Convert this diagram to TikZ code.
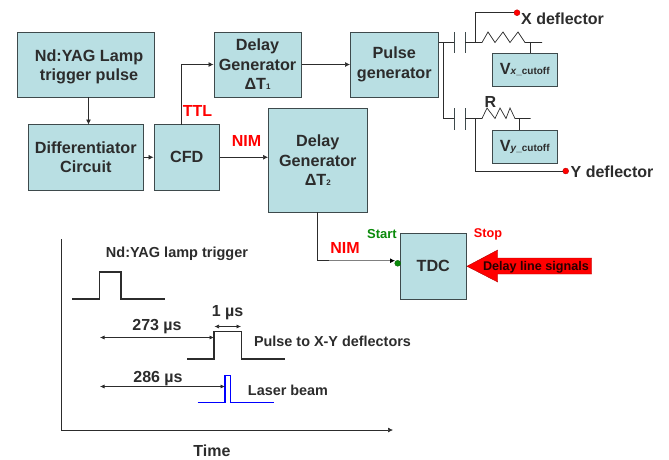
\documentclass[tikz,border=0pt]{standalone}
\usepackage{fontspec}
\setmainfont{Liberation Sans}
\usetikzlibrary{arrows.meta,calc}
\definecolor{boxfill}{HTML}{B9DFE3}
\definecolor{boxline}{HTML}{3E4A4C}
\definecolor{ink}{HTML}{2C2C2C}
\definecolor{sig}{HTML}{FF0000}
\definecolor{startgreen}{HTML}{0A8A0A}
\tikzset{
  lbl/.style={font=\bfseries\fontsize{#1}{#1}\selectfont,text=ink,inner sep=0pt},
  lbl/.default=13,
  block/.style={draw=boxline,line width=1pt,fill=boxfill,inner sep=0pt,align=center,font=\bfseries\fontsize{16.2}{19.5}\selectfont,text=ink},
  wire/.style={draw=ink,line width=0.7pt},
  flow/.style={wire,-{Latex[length=5pt,width=5pt]}},
  both/.style={draw=ink,line width=0.6pt,{Latex[length=4.5pt,width=4pt]}-{Latex[length=4.5pt,width=4pt]}},
  trace/.style={draw=ink,line width=1.1pt},
  plate/.style={draw=boxline,line width=1pt},
  redlbl/.style={font=\bfseries\fontsize{16}{16}\selectfont,text=sig,inner sep=0pt},
  dot/.style={circle,fill=#1,draw=#1!70!black,line width=0.3pt,minimum size=6pt,inner sep=0pt},
}
\newcommand{\blocknode}[6]{\node[block,minimum width=#4 pt-#2 pt,minimum height=#5 pt-#3 pt] (#1) at ({(#2+#4)/2},{(#3+#5)/2}) {#6};}
\begin{document}
\begin{tikzpicture}[x=1pt,y=-1pt]
\useasboundingbox (0,0) rectangle (669,459);
\blocknode{nd}{17.5}{32}{154}{97}{\rule{0pt}{16pt}\hspace*{6.5pt}Nd:YAG Lamp\\\hspace*{6.5pt}trigger pulse}
\blocknode{diff}{28.5}{124.5}{143}{190}{Differentiator\\Circuit}
\blocknode{cfd}{154}{124.5}{219.5}{190}{CFD}
\blocknode{dga}{214}{32}{301}{97}{Delay\\Generator\\ΔT{\fontsize{8}{8}\selectfont 1}}
\blocknode{dgb}{268.5}{108.5}{367}{212}{Delay\\Generator\\ΔT{\fontsize{8}{8}\selectfont 2}}
\blocknode{pg}{350.5}{32}{438}{97}{Pulse\\generator}
\blocknode{tdc}{400.5}{233.5}{466}{299}{TDC}
\blocknode{vx}{492}{53}{557.5}{86.5}{V{\fontsize{10}{10}\selectfont\itshape x}{\fontsize{10}{10}\selectfont\_cutoff}}
\blocknode{vy}{492}{130}{557.5}{163}{V{\fontsize{10}{10}\selectfont\itshape y}{\fontsize{10}{10}\selectfont\_cutoff}}
% block connectors
\coordinate (ndout) at (88.5,97);
\coordinate (diffin) at (88.5,124.5);
\draw[flow] (ndout) -- (diffin);
\draw[flow] (diff.east) -- (cfd.west);
\coordinate (cfdup) at (181.5,124.5);
\draw[flow] (cfdup) |- (dga.west);
\draw[flow] (dga.east) -- (pg.west);
\draw[flow] (cfd.east) -- (cfd.east -| dgb.west);
\node[dot=startgreen] (startdot) at (397.7,263.3) {};
\coordinate (dgout) at (317.5,212);
\coordinate (bend) at (317.5,260.7);
\coordinate (tdcarrow) at (395,260.7);
\draw[wire] (dgout) -- (bend) -- ++(11,0);
\draw[draw=gray,line width=0.8pt,-{Latex[length=5pt,width=5pt,color=black]}] (328.5,260.7) -- (tdcarrow);
% labels
\node[redlbl] (ttl) at (197.5,111) {TTL};
\node[redlbl] (nima) at (246.5,140.5) {NIM};
\node[redlbl] (nimb) at (345,248) {NIM};
\node[font=\bfseries\fontsize{13}{13}\selectfont,text=startgreen,inner sep=0pt] (startl) at (382,234.5) {Start};
\node[font=\bfseries\fontsize{12.7}{12.7}\selectfont,text=sig,inner sep=0pt] (stopl) at (488,234) {Stop};
% delay arrow
\fill[sig,draw=red!70!black,line width=0.4pt] (tdc.east) ++(0.5,0) coordinate (tip) -- (497.7,250) -- (497.7,258) -- (591.7,258) -- (591.7,274) -- (497.7,274) -- (497.7,282) -- cycle;
\node[lbl=12.6,text=black!85!red] (dls) at (536,267) {Delay line signals};
% circuit
\coordinate (jx) at (443,42.5);
\coordinate (pxa) at (454,42.5);
\coordinate (pxb) at (465,42.5);
\coordinate (rx) at (482,42.5);
\coordinate (rxe) at (525,42.5);
\coordinate (rxo) at (542,42.5);
\coordinate (vxt) at (530.5,42.5);
\coordinate (xt) at (475.7,42.5);
\draw[wire] (pg.east |- jx) -- (pxa);
\draw[plate] (454,32) -- (454,53);
\draw[plate] (465,32) -- (465,53);
\draw[wire] (pxb) -- (rx) -- (488,32) -- (495,42.5) -- (503,32) -- (510,42.5) -- (518,32) -- (rxe) -- (rxo);
\draw[wire] (vxt) -- (vx.north -| vxt);
\node[dot=red] (xdot) at (517,12.7) {};
\draw[wire] (xt) |- (xdot.west);
\node[lbl=16,anchor=west] (xd) at (521,19) {X deflector};
\coordinate (py) at (454,118.5);
\coordinate (pyb) at (465,118.5);
\coordinate (ry) at (482,118.5);
\coordinate (rye) at (515,118.5);
\coordinate (ryo) at (530.5,118.5);
\coordinate (vyt) at (519,118.5);
\coordinate (yt) at (475.7,118.5);
\draw[wire] (jx) |- (py);
\draw[plate] (454,108) -- (454,130);
\draw[plate] (465,108) -- (465,130);
\draw[wire] (pyb) -- (ry) -- (487,108) -- (495,118.5) -- (500,108) -- (506,118.5) -- (510,108) -- (rye) -- (ryo);
\draw[wire] (vyt) -- (vy.north -| vyt);
\node[dot=red] (ydot) at (565.7,171) {};
\draw[wire] (yt) |- (ydot.west);
\node[lbl=16,anchor=west] (yd) at (570.5,172) {Y deflector};
\node[lbl=16] (rl) at (490.5,102) {R};
% timing
\coordinate (ax0) at (61,430);
\coordinate (axt) at (61,239);
\coordinate (axr) at (393,430);
\draw[wire,-{Latex[length=5pt,width=5pt]}] (axt) -- (ax0) -- (axr);
\node[lbl=14.5] (t1) at (177,254) {Nd:YAG lamp trigger};
\draw[trace] (72,299) -- (99.5,299) -- (99.5,272) -- (121,272) -- (121,299) -- (165,299);
\draw[trace] (187,359) -- (214,359) -- (214,331.7) -- (241.5,331.7) -- (241.5,359) -- (285,359);
\draw[trace,draw=blue] (197.7,402.7) -- (225,402.7) -- (225,375.7) -- (230.5,375.7) -- (230.5,402.7) -- (274,402.7);
\coordinate (a1l) at (214.5,326.5);
\coordinate (a1r) at (241,326.5);
\draw[both] (a1l) -- (a1r);
\coordinate (a2l) at (100,337.5);
\coordinate (a2r) at (214,337.5);
\draw[both] (a2l) -- (a2r);
\coordinate (a3l) at (100,386.5);
\coordinate (a3r) at (225,386.5);
\draw[both] (a3l) -- (a3r);
\node[lbl=16] (l1) at (227.5,313) {1 µs};
\node[lbl=16] (l2) at (157,327) {273 µs};
\node[lbl=16] (l3) at (158,378.5) {286 µs};
\node[lbl=14.4] (t2) at (332.5,341) {Pulse to X-Y deflectors};
\node[lbl=14.4] (t3) at (288,390) {Laser beam};
\node[lbl=16] (t4) at (212,451) {Time};
\end{tikzpicture}
\end{document}
